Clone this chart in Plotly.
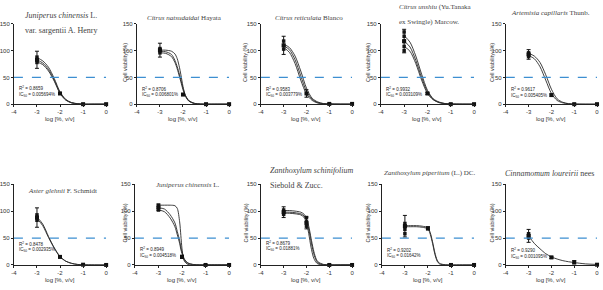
import plotly.graph_objects as go

# ---------------- DATA ----------------
dose_x = [-3, -2, -1, 0]
x_ticks = [-4, -3, -2, -1, 0]
x_tick_text = ["-4", "-3", "-2", "-1", "0"]
y_ticks = [0, 50, 100, 150]
y_tick_text = ["0", "50", "100", "150"]

titles = [
    "<i>Juniperus chinensis</i> L.",
    "<i>Citrus natsudaidai</i> Hayata",
    "<i>Citrus reticulata</i> Blanco",
    "<i>Citrus unshiu</i> (Yu.Tanaka",
    "<i>Artemisia capillaris</i> Thunb.",
    "<i>Aster glehnii</i> F. Schmidt",
    "<i>Juniperus chinensis</i> L.",
    "<i>Zanthoxylum schinifolium</i>",
    "<i>Zanthoxylum piperitum</i> (L.) DC.",
    "<i>Cinnamomum loureirii</i> nees",
]
subtitles = ["var. sargentii A. Henry", "", "", "ex Swingle) Marcow.", "", "", "", "Siebold &amp; Zucc.", "", ""]
r2_values = ["0.8659", "0.8706", "0.9583", "0.9932", "0.9617", "0.8478", "0.8949", "0.8679", "0.9202", "0.9290"]
ic50_values = ["0.005694%", "0.006801%", "0.003779%", "0.003109%", "0.005405%",
               "0.002935%", "0.004518%", "0.01881%", "0.01642%", "0.001095%"]

# mean +/- error at dose_x
means = [
    [83, 20, 0, 0], [101, 18, 0, 0], [110, 20, 0.5, 0.5], [118, 20, 0, 0], [93, 17, 0, 0],
    [88, 15, 0.5, 0], [107, 15, 0, 0], [98, 78, 0, 0], [72, 68, 0, 0], [54, 14, 5, 0.5],
]
errors = [
    [16, 2, 0.5, 0.5], [13, 2, 0.5, 0.5], [17, 7, 0.5, 0.5], [22, 2, 0.5, 0.5], [9, 2, 0.5, 0.5],
    [18, 2, 0.5, 0.5], [6, 3, 0.5, 0.5], [10, 11, 0.5, 0.5], [20, 3, 0.5, 0.5], [12, 2, 3, 0.5],
]
# replicate points
rep_x = [
    [-3, -3, -3], [-3, -3, -3], [-3, -3, -3], [-3, -3, -3, -3, -3], [-3, -3, -3],
    [-3, -3, -3], [-3, -3, -3], [-3, -3, -3, -2, -2, -2], [-3, -3, -3, -3], [-3, -3, -3],
]
rep_y = [
    [88, 83, 78], [104, 100, 96], [118, 110, 103], [135, 127, 117, 108, 100], [96, 93, 89],
    [93, 88, 83], [111, 106, 102], [102, 98, 94, 88, 80, 72], [77, 72, 66, 58], [58, 54, 50],
]

grid_a = [-3, -2.75, -2.5, -2.25, -2, -1.75, -1.5, -1.25, -1, -0.5, 0]
grid_b = [-3, -2.75, -2.5, -2.35, -2.25, -2.15, -2.05, -2, -1.9, -1.75, -1.5, -1.25, -1, -0.5, 0]
grid_c = [-3, -2.75, -2.5, -2.3, -2.2, -2.1, -2.05, -2, -1.95, -1.9, -1.75, -1.5, -1.25, -1, -0.5, 0]
grid_d = [-3, -2.75, -2.5, -2.25, -2.1, -2, -1.9, -1.8, -1.7, -1.6, -1.5, -1.25, -1, -0.5, 0]
grid_e = [-3, -2.75, -2.5, -2.25, -2, -1.9, -1.8, -1.7, -1.6, -1.5, -1.25, -1, -0.5, 0]

curve_x = [grid_a, grid_b, grid_a, grid_a, grid_a, grid_a, grid_c, grid_d, grid_e, grid_a]
curves = [
    [[87, 81, 69, 48, 23, 9, 3, 1, 0, 0, 0],
     [83, 77, 65, 45, 21, 8, 2.5, 0.8, 0, 0, 0],
     [79, 74, 62, 43, 20, 7.5, 2.5, 0.8, 0, 0, 0]],
    [[101, 101, 99, 94, 85, 68, 45, 33, 17, 6, 1, 0, 0, 0, 0],
     [99, 98, 93, 82, 70, 55, 38, 30, 17, 7, 1.5, 0.3, 0, 0, 0],
     [96, 95, 89, 78, 66, 51, 35, 27, 15, 6, 1.5, 0.3, 0, 0, 0]],
    [[112, 106, 90, 62, 30, 11, 4, 1, 0.3, 0, 0],
     [109, 102, 83, 53, 24, 9, 3, 1, 0.3, 0, 0],
     [106, 97, 76, 45, 19, 7, 2, 0.7, 0.2, 0, 0]],
    [[128, 116, 90, 56, 26, 10, 4, 1.2, 0.3, 0, 0],
     [118, 107, 82, 50, 23, 9, 3, 1, 0.3, 0, 0],
     [108, 99, 76, 45, 20, 8, 3, 1, 0.3, 0, 0]],
    [[95, 90, 78, 55, 28, 10, 3.5, 1, 0.3, 0, 0],
     [91, 85, 70, 45, 20, 7, 2.5, 0.8, 0.2, 0, 0]],
    [[89, 76, 53, 32, 16, 7, 3, 1, 0.3, 0, 0],
     [86, 73, 51, 31, 15, 7, 3, 1, 0.3, 0, 0]],
    [[111, 111, 111, 110, 105, 80, 55, 30, 15, 7, 1, 0, 0, 0, 0, 0],
     [106, 104, 93, 78, 62, 45, 33, 24, 17, 11, 4, 0.8, 0, 0, 0, 0],
     [102, 99, 87, 71, 56, 40, 29, 21, 15, 9, 3, 0.5, 0, 0, 0, 0]],
    [[101, 101, 100, 98, 94, 87, 72, 50, 29, 14, 6, 1, 0, 0, 0],
     [98, 98, 97, 95, 91, 84, 67, 44, 24, 11, 4, 0.5, 0, 0, 0],
     [96, 96, 95, 93, 88, 79, 58, 33, 15, 6, 2, 0.2, 0, 0, 0]],
    [[73, 73, 73, 72, 69, 60, 43, 23, 9, 3, 0.3, 0, 0, 0],
     [71, 71, 71, 70, 67, 57, 40, 20, 7, 2, 0.2, 0, 0, 0]],
    [[54, 40, 30, 21, 15, 11, 8, 6, 4.5, 2, 1]],
]

# ---------------- LAYOUT (pixels) ----------------
W, H = 603, 290
x_px = [(11, 104), (135, 228), (260, 352), (381, 475), (507, 599),
        (11, 104), (133, 228), (260, 352), (382, 475), (507, 599)]
row_px = [(21.4, 103.3), (185, 267.5)]
title_pos = [(20, 13, 'left'), (183, 15, 'center'), (309, 15, 'center'), (397, 4, 'left'), (552, 10, 'center'),
             (60, 192, 'center'), (186, 186, 'center'), (267, 171, 'left'), (430, 174, 'center'), (551, 174, 'center')]
subtitle_dy = 15
title_size = [8, 7, 7, 7, 7, 7, 7, 8, 7, 8]
ann_y = [30, 29, 29, 29, 28, 39, 29, 41, 28, 27]
ann_gap = 12
ytitle_x = [None, 123, 244, 368, 493, None, 123, 245, 368, 493]

fig = go.Figure()
annotations = []
shapes = []
sans = "Liberation Sans, Arial, sans-serif"
serif = "Liberation Serif, Times New Roman, serif"

for i in range(10):
    n = i + 1
    xa = "x" if n == 1 else f"x{n}"
    ya = "y" if n == 1 else f"y{n}"
    top, bot = row_px[0] if i < 5 else row_px[1]
    x0, x1 = x_px[i]
    xkey = "xaxis" if n == 1 else f"xaxis{n}"
    ykey = "yaxis" if n == 1 else f"yaxis{n}"
    axis_common = dict(showgrid=False, zeroline=False, showline=True, linecolor="#222", linewidth=1,
                       ticks="outside", ticklen=2, tickwidth=1, tickcolor="#222",
                       tickfont=dict(family=sans, size=6, color="#333"), fixedrange=True)
    fig.layout[xkey] = dict(domain=[x0 / W, x1 / W], range=[-4, 0], anchor=ya,
                            tickvals=x_ticks, ticktext=x_tick_text, **axis_common)
    fig.layout[ykey] = dict(domain=[1 - bot / H, 1 - top / H], range=[0, 150], anchor=xa,
                            tickvals=y_ticks, ticktext=y_tick_text, **axis_common)
    # dashed 50% line
    shapes.append(dict(type="line", xref=xa, yref=ya, x0=-4, x1=0, y0=50, y1=50,
                       line=dict(color="#3d8fd1", width=1.2, dash="dash")))
    # curves
    for cy in curves[i]:
        fig.add_trace(go.Scatter(x=curve_x[i], y=cy, mode="lines", xaxis=xa, yaxis=ya,
                                 line=dict(color="#2a2a2a", width=0.9, shape="spline", smoothing=0.8),
                                 showlegend=False, hoverinfo="skip", cliponaxis=False))
    # replicate points
    fig.add_trace(go.Scatter(x=rep_x[i], y=rep_y[i], mode="markers", xaxis=xa, yaxis=ya,
                             marker=dict(symbol="square", size=3.5, color="#1a1a1a"),
                             showlegend=False, cliponaxis=False))
    # means with error bars
    fig.add_trace(go.Scatter(x=dose_x, y=means[i], mode="markers", xaxis=xa, yaxis=ya,
                             marker=dict(symbol="square", size=4, color="#111"),
                             error_y=dict(type="data", array=errors[i], color="#111", thickness=1, width=2),
                             showlegend=False, cliponaxis=False))
    # titles
    tx, ty, anc = title_pos[i]
    annotations.append(dict(x=tx / W, y=1 - ty / H, xref="paper", yref="paper", text=titles[i],
                            showarrow=False, xanchor=anc, yanchor="middle",
                            font=dict(family=serif, size=title_size[i], color="#444")))
    if subtitles[i]:
        annotations.append(dict(x=tx / W, y=1 - (ty + subtitle_dy) / H, xref="paper", yref="paper",
                                text=subtitles[i], showarrow=False, xanchor=anc, yanchor="middle",
                                font=dict(family=serif, size=title_size[i], color="#444")))
    # R2 / IC50
    annotations.append(dict(x=-3.88, y=ann_y[i], xref=xa, yref=ya, text=f"R<sup>2</sup> = {r2_values[i]}",
                            showarrow=False, xanchor="left", yanchor="middle",
                            font=dict(family=sans, size=4.5, color="#222")))
    annotations.append(dict(x=-3.88, y=ann_y[i] - ann_gap, xref=xa, yref=ya,
                            text=f"IC<sub>50</sub> = {ic50_values[i]}",
                            showarrow=False, xanchor="left", yanchor="middle",
                            font=dict(family=sans, size=4.5, color="#222")))
    # x title
    annotations.append(dict(x=(x0 + x1) / 2 / W, y=1 - (bot + 15) / H, xref="paper", yref="paper",
                            text="log [%, v/v]", showarrow=False, xanchor="center", yanchor="middle",
                            font=dict(family=sans, size=6, color="#333")))
    # y title
    if ytitle_x[i] is not None:
        annotations.append(dict(x=ytitle_x[i] / W, y=1 - ((top + bot) / 2 - 2) / H, xref="paper", yref="paper",
                                text="Cell viability (%)", showarrow=False, textangle=-90,
                                xanchor="center", yanchor="middle",
                                font=dict(family=sans, size=5.5, color="#333")))

fig.update_layout(width=W, height=H, margin=dict(l=0, r=0, t=0, b=0),
                  paper_bgcolor="white", plot_bgcolor="white",
                  annotations=annotations, shapes=shapes, showlegend=False)

fig.write_html("out.html", config={"displayModeBar": False})
